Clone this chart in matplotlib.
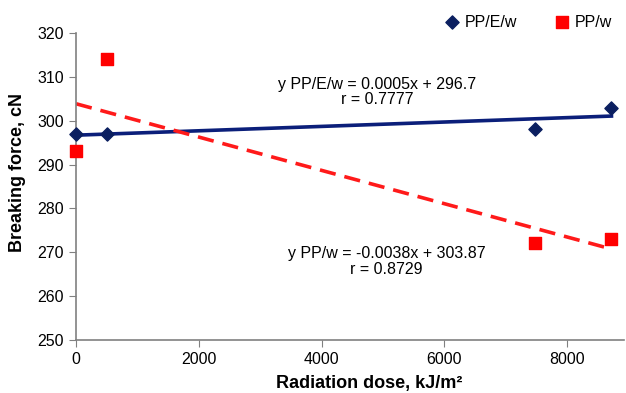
import numpy as np
import matplotlib
matplotlib.use('Agg')
import matplotlib.pyplot as plt

plt.rcParams['font.family'] = ['Liberation Sans', 'DejaVu Sans']

# data
dose = [0, 500, 7470, 8720]
ppew = [297, 297, 298, 303]
ppw = [293, 314, 272, 273]

# trend line coefficients shown on the chart
ppew_fit = (0.0005, 296.7)
ppw_fit = (-0.0038, 303.87)
ppew_label = 'y PP/E/w = 0.0005x + 296.7\nr = 0.7777'
ppw_label = 'y PP/w = -0.0038x + 303.87\nr = 0.8729'

fig = plt.figure(figsize=(6.26, 3.93), dpi=100)
ax = fig.add_axes([0.1214, 0.135, 0.876, 0.781])

xs = np.array([dose[0], dose[-1]])
ax.plot(xs, ppew_fit[0] * xs + ppew_fit[1], color='#0b1f7a', lw=2.6, zorder=2)
ax.plot(xs, ppw_fit[0] * xs + ppw_fit[1], color='#ff1a1a', lw=2.6,
        dashes=(4.5, 2.5), zorder=2)

ax.scatter(dose, ppew, marker='D', s=45, color='#0b1f60', label='PP/E/w',
           zorder=3, clip_on=False)
ax.scatter(dose, ppw, marker='s', s=70, color='#ff0000', label='PP/w',
           zorder=3, clip_on=False)

ax.text(4910, 306.5, ppew_label, ha='center', va='center', fontsize=11.5,
        linespacing=1.0)
ax.text(5057, 267.9, ppw_label, ha='center', va='center', fontsize=11.5,
        linespacing=1.05)

ax.set_xlim(0, 8930)
ax.set_ylim(250, 320)
ax.set_xticks([0, 2000, 4000, 6000, 8000])
ax.set_yticks(range(250, 321, 10))
for s in ['top', 'right']:
    ax.spines[s].set_visible(False)
for s in ['left', 'bottom']:
    ax.spines[s].set_color('#808080')
    ax.spines[s].set_linewidth(1.2)
ax.tick_params(colors='#808080', labelcolor='black', labelsize=11.5, length=5)

ax.set_xlabel('Radiation dose, kJ/m²', fontsize=13, fontweight='bold')
ax.set_ylabel('Breaking force, cN', fontsize=13, fontweight='bold')
ax.xaxis.set_label_coords(0.534, -0.115)
ax.yaxis.set_label_coords(-0.091, 0.544)

fig.legend(*ax.get_legend_handles_labels(), loc='center right',
           bbox_to_anchor=(1.0, 0.944), ncol=2, frameon=False,
           fontsize=11.5, handletextpad=0.2, columnspacing=2.2,
           handlelength=1.2)

plt.savefig('out.png', dpi=100)
